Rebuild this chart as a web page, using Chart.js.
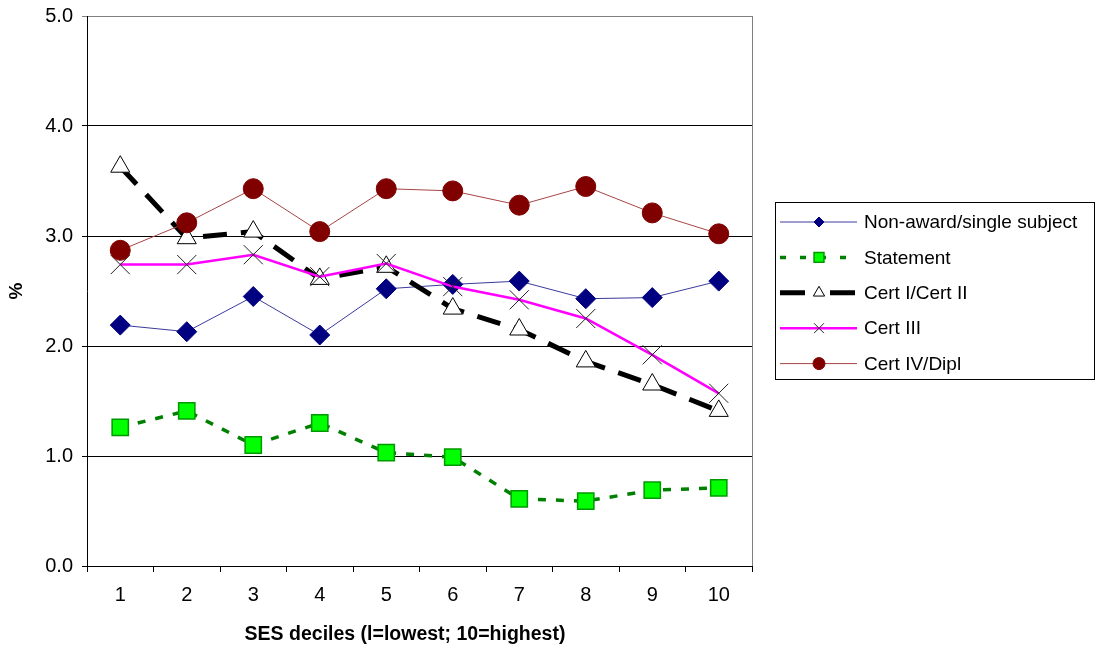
<!DOCTYPE html>
<html>
<head>
<meta charset="utf-8">
<title>Participation by SES decile</title>
<script src="https://cdn.jsdelivr.net/npm/chart.js@4.4.1/dist/chart.umd.min.js"></script>
<style>
  html, body { margin: 0; padding: 0; background: #fff; }
  #wrap { width: 1097px; height: 650px; }
</style>
</head>
<body>
<div id="wrap"><canvas id="sesChart" width="1097" height="650"></canvas></div>
<script>
// x axis categories
const deciles = ['1', '2', '3', '4', '5', '6', '7', '8', '9', '10'];

// % by decile for each qualification level
const nonAward  = [2.19, 2.13, 2.45, 2.10, 2.52, 2.56, 2.59, 2.43, 2.44, 2.59];
const statement = [1.26, 1.41, 1.10, 1.30, 1.03, 0.99, 0.61, 0.59, 0.69, 0.71];
const cert1and2 = [3.63, 2.98, 3.04, 2.61, 2.72, 2.34, 2.15, 1.86, 1.65, 1.41];
const cert3     = [2.74, 2.74, 2.83, 2.63, 2.75, 2.54, 2.42, 2.25, 1.92, 1.57];
const cert4     = [2.87, 3.12, 3.43, 3.04, 3.43, 3.41, 3.28, 3.45, 3.21, 3.02];

const seriesNames = ['Non-award/single subject', 'Statement', 'Cert I/Cert II', 'Cert III', 'Cert IV/Dipl'];
const yTicks = [0, 1, 2, 3, 4, 5];
const xTitle = 'SES deciles (l=lowest; 10=highest)';

const FONT = '"Liberation Sans", Arial, Helvetica, sans-serif';

// Legend in a framed box on the right, line sample + marker + label
const boxLegend = {
    id: 'boxLegend',
    afterDraw(chart) {
        const ctx = chart.ctx;
        const box = { left: 775, top: 202, right: 1094, bottom: 379 };
        ctx.save();
        ctx.strokeStyle = '#000';
        ctx.lineWidth = 1;
        ctx.strokeRect(box.left + 0.5, box.top + 0.5, box.right - box.left, box.bottom - box.top);

        chart.data.datasets.forEach((ds, i) => {
            const y = 222 + i * 35.4;

            ctx.save();
            ctx.strokeStyle = ds.borderColor;
            ctx.lineWidth = ds.borderWidth;
            ctx.setLineDash(ds.legendDash || []);
            ctx.beginPath();
            ctx.moveTo(780, y);
            ctx.lineTo(857, y);
            ctx.stroke();
            ctx.restore();

            ctx.save();
            ctx.fillStyle = ds.pointBackgroundColor;
            ctx.strokeStyle = ds.pointBorderColor;
            ctx.lineWidth = ds.pointBorderWidth;
            Chart.helpers.drawPoint(ctx, {
                pointStyle: ds.pointStyle,
                radius: ds.legendRadius,
                rotation: 0,
                borderWidth: ds.pointBorderWidth
            }, 819, y);
            ctx.restore();

            ctx.fillStyle = '#000';
            ctx.font = '19px ' + FONT;
            ctx.textAlign = 'left';
            ctx.textBaseline = 'middle';
            ctx.fillText(ds.label, 864, y + 1);
        });
        ctx.restore();
    }
};

// Grey frame on the right edge of the plot area, x axis title below the ticks
const plotFrame = {
    id: 'plotFrame',
    beforeDatasetsDraw(chart) {
        const { ctx, chartArea } = chart;
        ctx.save();
        ctx.strokeStyle = '#808080';
        ctx.lineWidth = 1;
        ctx.beginPath();
        ctx.moveTo(Math.round(chartArea.right) + 0.5, chartArea.top);
        ctx.lineTo(Math.round(chartArea.right) + 0.5, chartArea.bottom);
        ctx.stroke();

        ctx.fillStyle = '#000';
        ctx.font = 'bold 19.5px ' + FONT;
        ctx.textAlign = 'center';
        ctx.textBaseline = 'middle';
        ctx.fillText(xTitle, 405, 635);
        ctx.restore();
    }
};

const ctx = document.getElementById('sesChart');

new Chart(ctx, {
    type: 'line',
    data: {
        labels: deciles,
        datasets: [
            {
                label: seriesNames[0],
                data: nonAward,
                borderColor: '#3a3a9e',
                borderWidth: 1,
                pointStyle: 'rectRot',
                pointRadius: 10,
                legendRadius: 5,
                pointBackgroundColor: '#000080',
                pointBorderColor: '#000080',
                pointBorderWidth: 1,
                order: 5
            },
            {
                label: seriesNames[1],
                data: statement,
                borderColor: '#008000',
                borderWidth: 3.5,
                borderDash: [8, 10],
                legendDash: [6, 14],
                pointStyle: 'rect',
                pointRadius: 11.5,
                legendRadius: 7,
                pointBackgroundColor: '#00ff00',
                pointBorderColor: '#009900',
                pointBorderWidth: 1.5,
                order: 4
            },
            {
                label: seriesNames[2],
                data: cert1and2,
                borderColor: '#000000',
                borderWidth: 5,
                borderDash: [24, 14],
                legendDash: [25, 25],
                pointStyle: 'triangle',
                pointRadius: 11,
                legendRadius: 6.5,
                pointBackgroundColor: '#ffffff',
                pointBorderColor: '#000000',
                pointBorderWidth: 1,
                order: 3
            },
            {
                label: seriesNames[3],
                data: cert3,
                borderColor: '#ff00ff',
                borderWidth: 2.5,
                pointStyle: 'crossRot',
                pointRadius: 13.5,
                legendRadius: 7,
                pointBackgroundColor: '#222222',
                pointBorderColor: '#222222',
                pointBorderWidth: 1,
                order: 2
            },
            {
                label: seriesNames[4],
                data: cert4,
                borderColor: '#a84444',
                borderWidth: 1,
                pointStyle: 'circle',
                pointRadius: 10,
                legendRadius: 6,
                pointBackgroundColor: '#800000',
                pointBorderColor: '#800000',
                pointBorderWidth: 1,
                order: 1
            }
        ]
    },
    options: {
        responsive: false,
        animation: false,
        layout: { padding: { top: 16, right: 345, left: 0, bottom: 0 } },
        plugins: {
            legend: { display: false },
            tooltip: { enabled: false }
        },
        elements: {
            line: { tension: 0, borderCapStyle: 'butt' }
        },
        scales: {
            x: {
                type: 'category',
                offset: true,
                afterFit(scale) { scale.height = 84; },
                grid: {
                    offset: true,
                    drawOnChartArea: false,
                    color: '#000',
                    tickLength: 6
                },
                border: { color: '#000', width: 1 },
                ticks: {
                    color: '#000',
                    font: { family: FONT, size: 20 },
                    padding: 11,
                    maxRotation: 0
                }
            },
            y: {
                min: 0,
                max: 5,
                afterFit(scale) {
                    scale.width = 87;
                    scale.paddingTop = 0;
                    scale.paddingBottom = 0;
                },
                afterBuildTicks(scale) {
                    scale.ticks = yTicks.map(v => ({ value: v }));
                },
                grid: {
                    color: (c) => (c.tick && c.tick.value === 5 ? '#808080' : '#000'),
                    tickLength: 5
                },
                border: { color: '#000', width: 1 },
                ticks: {
                    color: '#000',
                    font: { family: FONT, size: 20 },
                    padding: 9,
                    callback: (v) => Number(v).toFixed(1)
                },
                title: {
                    display: true,
                    text: '%',
                    color: '#000',
                    font: { family: FONT, size: 19, weight: 'bold' },
                    padding: { top: 5, bottom: 0 }
                }
            }
        }
    },
    plugins: [plotFrame, boxLegend]
});
</script>
</body>
</html>
